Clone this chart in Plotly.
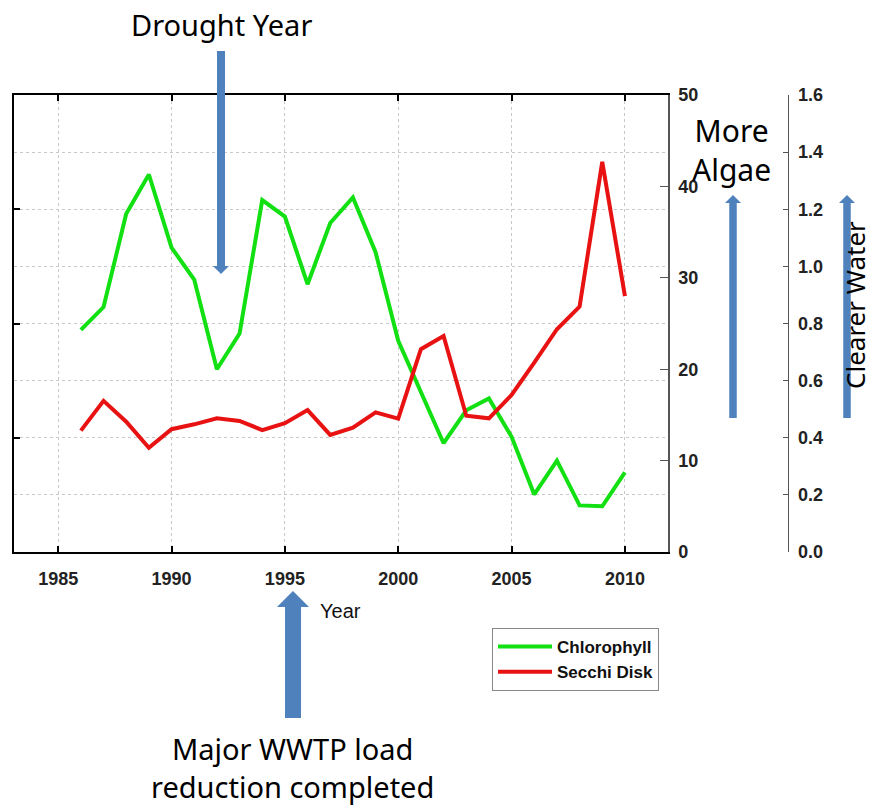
"""Chlorophyll and Secchi disk depth, 1986-2010."""
import plotly.graph_objects as go

years = list(range(1986, 2011))
chlorophyll = [24.3, 26.8, 37.0, 41.3, 33.3, 29.8, 20.0, 23.9, 38.5, 36.7,
               29.3, 36.0, 38.8, 32.8, 23.1, 17.4, 11.9, 15.5, 16.8, 12.6,
               6.3, 10.0, 5.1, 5.0, 8.7]
secchi = [0.425, 0.529, 0.456, 0.365, 0.430, 0.447, 0.468, 0.459, 0.427, 0.451,
          0.497, 0.410, 0.435, 0.489, 0.467, 0.710, 0.756, 0.477, 0.468, 0.550,
          0.663, 0.780, 0.859, 1.366, 0.896]
x_ticks = [1985, 1990, 1995, 2000, 2005, 2010]

# the page body has an 8px margin, so the figure starts 8px into the window
OFF = 8
W, H = 878 - 2 * OFF, 808 - OFF
BLUE = "#4F81BD"
TICK_FONT = dict(family="Arial, Liberation Sans, sans-serif", size=18,
                 color="#222222", weight="bold")
HAND = "Comic Sans MS, Noto Sans, sans-serif"


def px(x):
    """Window pixel x -> paper fraction."""
    return (x - OFF) / W


def py(y):
    """Window pixel y -> paper fraction."""
    return 1 - (y - OFF) / H


def block_arrow(cx, y_tail, y_tip, shaft, head_w, head_l):
    """Vertical block arrow as a filled path, given in window pixels."""
    d = 1 if y_tip > y_tail else -1
    yb = y_tip - d * head_l
    pts = [(cx - shaft / 2, y_tail), (cx - shaft / 2, yb), (cx - head_w / 2, yb),
           (cx, y_tip), (cx + head_w / 2, yb), (cx + shaft / 2, yb),
           (cx + shaft / 2, y_tail)]
    path = "M" + " L".join(f"{px(a):.5f},{py(b):.5f}" for a, b in pts) + " Z"
    return dict(type="path", xref="paper", yref="paper", path=path,
                fillcolor=BLUE, line=dict(width=0))


def note(text, x, y, size=30, angle=0):
    return dict(text=text, x=px(x), y=py(y), xref="paper", yref="paper",
                showarrow=False, textangle=angle, xanchor="center", yanchor="middle",
                font=dict(family=HAND, size=size, color="black"))


fig = go.Figure()
# empty trace so the base (grid) subplot exists
fig.add_trace(go.Scatter(x=[], y=[], showlegend=False, hoverinfo="skip"))
fig.add_trace(go.Scatter(x=years, y=chlorophyll, name="Chlorophyll", mode="lines",
                         line=dict(color="#12E012", width=4), yaxis="y2"))
fig.add_trace(go.Scatter(x=years, y=secchi, name="Secchi Disk", mode="lines",
                         line=dict(color="#E81212", width=4), yaxis="y3"))

fig.update_layout(
    width=W, height=H,
    margin=dict(l=0, r=0, t=0, b=0, autoexpand=False),
    paper_bgcolor="white", plot_bgcolor="white",
    showlegend=True,
    xaxis=dict(
        domain=[px(14), px(668)], range=[1983.05, 2011.9],
        tickvals=x_ticks, ticks="inside", ticklen=6, tickwidth=2, tickcolor="black",
        showline=True, linecolor="black", linewidth=2, mirror="ticks",
        showgrid=True, gridcolor="#c8c8c8", griddash="dot", gridwidth=1,
        tickfont=TICK_FONT, ticklabelstandoff=9, zeroline=False,
    ),
    yaxis=dict(
        domain=[py(552), py(95)], range=[0, 8], dtick=2,
        ticks="inside", ticklen=6, tickwidth=2, tickcolor="black",
        showticklabels=False, showline=True, linecolor="black", linewidth=2,
        showgrid=True, gridcolor="#c8c8c8", griddash="dot", gridwidth=1,
        minor=dict(dtick=1, showgrid=True, gridcolor="#c8c8c8", griddash="dot"),
        zeroline=False,
    ),
    yaxis2=dict(
        overlaying="y", anchor="x", side="right", range=[0, 50], dtick=10,
        ticks="inside", ticklen=8, tickwidth=1, tickcolor="#555555",
        showline=True, linecolor="#555555", linewidth=1.5,
        showgrid=False, zeroline=False, tickfont=TICK_FONT, ticklabelstandoff=5,
    ),
    yaxis3=dict(
        overlaying="y", anchor="free", position=px(787.5), side="right",
        range=[0, 1.6], dtick=0.2, tickformat=".1f",
        ticks="inside", ticklen=5, tickwidth=1, tickcolor="#555555",
        showline=True, linecolor="#555555", linewidth=1,
        showgrid=False, zeroline=False, tickfont=TICK_FONT, ticklabelstandoff=6,
    ),
    legend=dict(
        x=px(492), y=py(628), xanchor="left", yanchor="top",
        bgcolor="white", bordercolor="#888888", borderwidth=1,
        font=dict(family="Arial, Liberation Sans, sans-serif", size=17,
                  color="#111111", weight="bold"),
        itemwidth=54, tracegroupgap=0,
    ),
    shapes=[
        block_arrow(221, 51, 274, 8, 16, 8),
        block_arrow(733, 418, 195, 7.5, 16, 8),
        block_arrow(847, 418, 195, 7.5, 16, 8),
        block_arrow(293, 718, 591, 16, 32, 16),
    ],
    annotations=[
        note("Drought Year", 221, 25, size=29),
        note("More<br>Algae", 731, 150),
        note("Clearer Water", 855, 305, size=26, angle=-90),
        note("Major WWTP load<br>reduction completed", 292, 767, size=29),
        dict(text="Year", x=px(318), y=py(611), xref="paper", yref="paper",
             showarrow=False, xanchor="left", yanchor="middle",
             font=dict(family="Arial, Liberation Sans, sans-serif", size=20,
                       color="#111111")),
    ],
)

fig.write_html("out.html")
